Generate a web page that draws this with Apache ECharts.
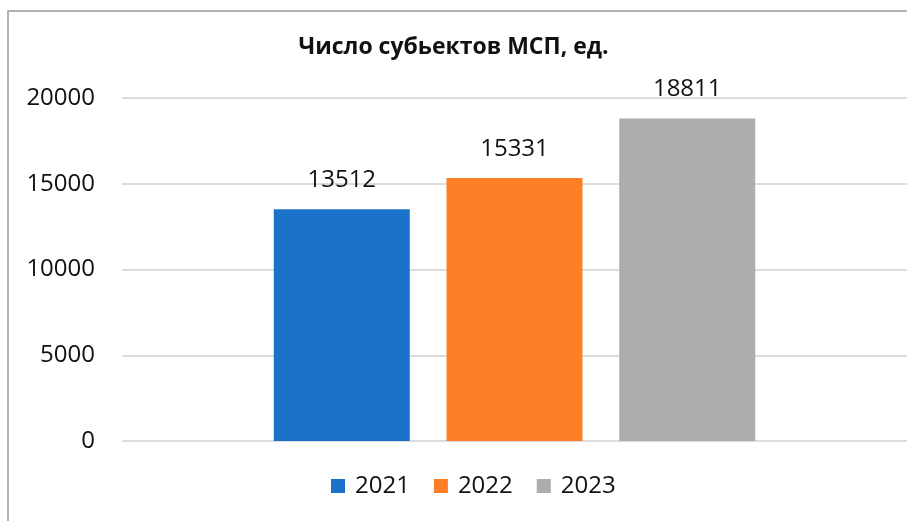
<!DOCTYPE html>
<html>
<head>
<meta charset="utf-8">
<script src="https://cdn.jsdelivr.net/npm/echarts@6/dist/echarts.min.js"></script>
<style>
  html, body { margin: 0; padding: 0; background: #fff; }
  #app { width: 907px; height: 521px; }
</style>
</head>
<body>
<div id="app"></div>
<script>
// данные
var years = ['2021', '2022', '2023']
var values = [13512, 15331, 18811]
var colors = ['#1a73c8', '#ff7f27', '#adadad']
var yTicks = [0, 5000, 10000, 15000, 20000]

var chart = echarts.init(document.getElementById('app'))

var series = years.map((y, i) => ({
    name: y,
    type: 'bar',
    data: [values[i]],
    barWidth: 136,
    barGap: '27%',
    itemStyle: { color: colors[i] },
    label: {
        show: true,
        position: 'top',
        distance: 17,
        color: '#111',
        fontSize: 24,
        fontFamily: 'Open Sans'
    }
}))

chart.setOption({
    animation: false,
    title: {
        text: 'Число субьектов МСП, ед.',
        left: 'center',
        top: 31,
        textStyle: { fontFamily: 'Open Sans', fontWeight: 'bold', fontSize: 23, color: '#111' }
    },
    legend: {
        data: years,
        bottom: 18,
        left: 326,
        itemWidth: 14,
        itemHeight: 14,
        itemGap: 24,
        icon: 'rect',
        textStyle: { fontFamily: 'Open Sans', fontSize: 24, color: '#111', padding: [0, 0, 0, 5] }
    },
    graphic: [{
        type: 'rect',
        shape: { x: 8, y: 11, width: 1000, height: 1000 },
        style: { fill: 'none', stroke: '#999', lineWidth: 1.5 },
        silent: true
    }],
    grid: { left: 122, right: 0, top: 98, bottom: 80 },
    xAxis: {
        type: 'category',
        data: [''],
        axisLine: { show: false },
        axisTick: { show: false },
        axisLabel: { show: false }
    },
    yAxis: {
        type: 'value',
        min: yTicks[0],
        max: yTicks[yTicks.length - 1],
        interval: 5000,
        axisLine: { show: false },
        axisTick: { show: false },
        axisLabel: {
            margin: 27,
            color: '#111',
            fontSize: 24,
            fontFamily: 'Open Sans',
            formatter: (v) => String(v)
        },
        splitLine: { lineStyle: { color: '#dcdcdc', width: 2 } }
    },
    series: series
})
</script>
</body>
</html>
